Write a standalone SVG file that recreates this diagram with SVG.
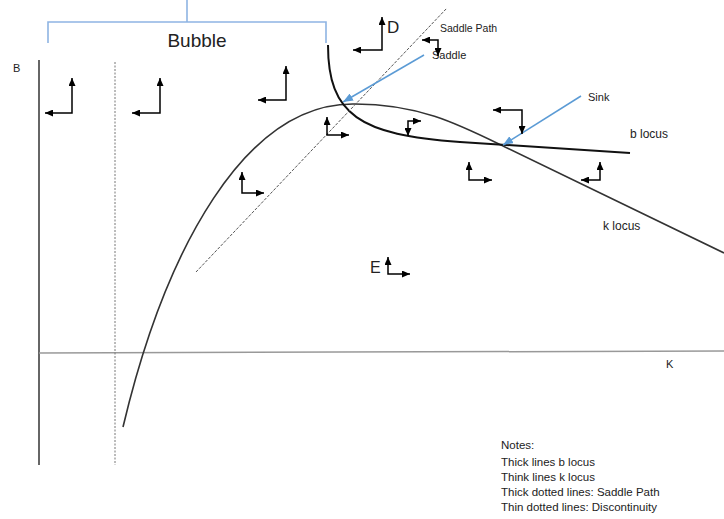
<svg xmlns="http://www.w3.org/2000/svg" width="724" height="519" viewBox="0 0 724 519">
<defs>
<style>
.t{font-family:"Liberation Sans",Arial,sans-serif;fill:#222}
.ar{fill:none;stroke:#000;stroke-width:1.5;marker-start:url(#ah);marker-end:url(#ah)}
.bl{fill:none;stroke:#8EB4E3;stroke-width:1.6}
</style>
<marker id="ah" markerUnits="userSpaceOnUse" markerWidth="8" markerHeight="7" refX="8" refY="3.5" orient="auto-start-reverse"><path d="M0,0 L8,3.5 L0,7 z" fill="#000"/></marker>
<marker id="bh" markerUnits="userSpaceOnUse" markerWidth="10" markerHeight="8" refX="10" refY="4" orient="auto"><path d="M0,0 L10,4 L0,8 z" fill="#5B9BD5"/></marker>
</defs>
<rect width="724" height="519" fill="#fff"/>
<g id="axes">
<line x1="39" y1="60" x2="39" y2="465" stroke="#333" stroke-width="1.5"/>
<line x1="39" y1="353" x2="724" y2="351" stroke="#999" stroke-width="1.5"/>
<line x1="115" y1="62" x2="115" y2="465" stroke="#777" stroke-width="1" stroke-dasharray="2,1.5"/>
<text class="t" x="13" y="72" font-size="11">B</text>
<text class="t" x="666" y="368" font-size="11">K</text>
</g>
<g id="bubble">
<path class="bl" d="M187,0 V22 M48,43 V22 H326 V43"/>
<text class="t" x="197" y="47" font-size="19" text-anchor="middle">Bubble</text>
</g>
<g id="k-locus">
<path d="M123,427 C165,250 245,102 355,104 C420,104 460,125 505,147 L724,253" fill="none" stroke="#333" stroke-width="1.6"/>
<text class="t" x="603" y="230" font-size="12">k locus</text>
</g>
<g id="b-locus">
<path d="M328,45 C328,115 360,135 460,142 L630,153" fill="none" stroke="#111" stroke-width="2"/>
<text class="t" x="630" y="138" font-size="12">b locus</text>
</g>
<g id="saddle-path">
<line x1="196" y1="272" x2="447" y2="8" stroke="#555" stroke-width="1" stroke-dasharray="3,1.5"/>
<text class="t" x="440" y="32" font-size="10.5">Saddle Path</text>
</g>
<g id="labels">
<text class="t" x="432" y="59" font-size="11">Saddle</text>
<text class="t" x="588" y="101" font-size="11">Sink</text>
<text class="t" x="387" y="33" font-size="17">D</text>
<text class="t" x="370" y="273" font-size="16">E</text>
</g>
<g id="connectors">
<line x1="424" y1="55" x2="343" y2="102" stroke="#5B9BD5" stroke-width="1.5" marker-end="url(#bh)"/>
<line x1="581" y1="96" x2="503" y2="145" stroke="#5B9BD5" stroke-width="1.5" marker-end="url(#bh)"/>
<polyline class="ar" points="45,113 72,113 72,78"/>
<polyline class="ar" points="132,113 160,113 160,78"/>
<polyline class="ar" points="258,100 286,100 286,66"/>
<polyline class="ar" points="353,50 382,50 382,17"/>
<polyline class="ar" points="422,40 438,40 438,56"/>
<polyline class="ar" points="493,110 522,110 522,134"/>
<polyline class="ar" points="327,117 327,135 349,135"/>
<polyline class="ar" points="421,121 408,121 408,136"/>
<polyline class="ar" points="242,172 242,193 264,193"/>
<polyline class="ar" points="388,257 388,274 410,274"/>
<polyline class="ar" points="469,162 469,180 492,180"/>
<polyline class="ar" points="600,162 600,180 581,180"/>
</g>
<g id="notes">
<text class="t" x="501" y="449" font-size="11.5">Notes:</text>
<text class="t" x="501" y="466" font-size="11.5">Thick lines b locus</text>
<text class="t" x="501" y="481" font-size="11.5">Think lines k locus</text>
<text class="t" x="501" y="496" font-size="11.5">Thick dotted lines: Saddle Path</text>
<text class="t" x="501" y="511" font-size="11.5">Thin dotted lines: Discontinuity</text>
</g>
</svg>
